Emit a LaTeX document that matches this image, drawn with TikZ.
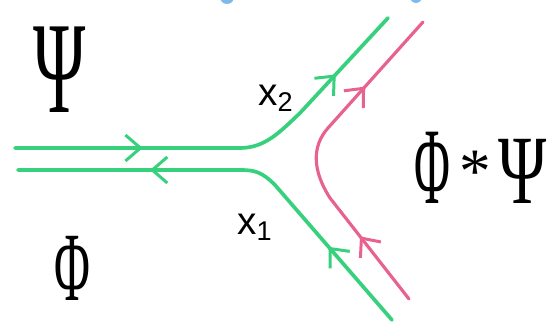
\documentclass[tikz,border=0pt]{standalone}
\usepackage{fontspec}
\setmainfont{Liberation Serif}
\newfontfamily\handfont{Liberation Sans}
\usepackage{tikz}
\usetikzlibrary{arrows.meta, decorations.markings}

\definecolor{linegreen}{RGB}{55,208,125}
\definecolor{linepink}{RGB}{232,98,145}
\definecolor{dotblue}{RGB}{125,185,235}

\tikzset{handbarb/.tip={Straight Barb[length=3mm, width=5.2mm, line width=1.7pt]}}

\begin{document}
\begin{tikzpicture}[x=0.2mm, y=-0.2mm, >=Latex,
  flow/.style={line width=2.1pt, line cap=round, postaction={decorate}},
  bigsym/.style={inner sep=0pt, font=\fontsize{62}{62}\selectfont, transform shape},
  label/.style={inner sep=0pt, font=\handfont\fontsize{22}{22}\selectfont}]
  \useasboundingbox (0,0) rectangle (552,324);
  \clip (0,0) rectangle (552,324);
  % end points of the lines
  \coordinate (gl1) at (15,148);
  \coordinate (gl2) at (18,170);
  \coordinate (gu) at (388,18);
  \coordinate (gd) at (392,320);
  \coordinate (pu) at (423,22);
  \coordinate (pd) at (409,299);
  % upper green line
  \draw[flow, linegreen, decoration={markings,
      mark=at position 0.30 with {\arrow[linegreen]{handbarb}},
      mark=at position 0.82 with {\arrow[linegreen]{handbarb}}}]
    (gl1) -- (240,148) .. controls (265,148) and (280,132) .. (300,113) -- (gu);
  % lower green line
  \draw[flow, linegreen, decoration={markings,
      mark=at position 0.22 with {\arrow[linegreen]{handbarb}},
      mark=at position 0.70 with {\arrow[linegreen]{handbarb}}}]
    (gd) -- (275,185) .. controls (262,172) and (255,170) .. (240,170) -- (gl2);
  % pink line
  \draw[flow, linepink, line width=1.8pt, decoration={markings,
      mark=at position 0.23 with {\arrow[linepink]{handbarb}},
      mark=at position 0.75 with {\arrow[linepink]{handbarb}}}]
    (pd) -- (330,198) .. controls (312,170) and (312,146) .. (328,128) -- (pu);
  % blue dots at the top edge
  \fill[dotblue] (227,-3) circle (7);
  \fill[dotblue] (416,-3) circle (6);
  % labels
  \node[bigsym, xscale=0.65, yscale=1.2] (psi) at (60,70) {Ψ};
  \node[bigsym, xscale=0.45, yscale=0.9] (phi) at (72,268) {Φ};
  \node[bigsym, xscale=0.45] (phi2) at (432,168) {Φ};
  \node[inner sep=0pt, font=\fontsize{36}{36}\selectfont] (star) at (475,172) {*};
  \node[bigsym, xscale=0.6, yscale=0.9] (psi2) at (523,171) {Ψ};
  \node[label] (x2) at (276,98) {x\textsubscript{2}};
  \node[label] (x1) at (255,227) {x\textsubscript{1}};
\end{tikzpicture}
\end{document}
